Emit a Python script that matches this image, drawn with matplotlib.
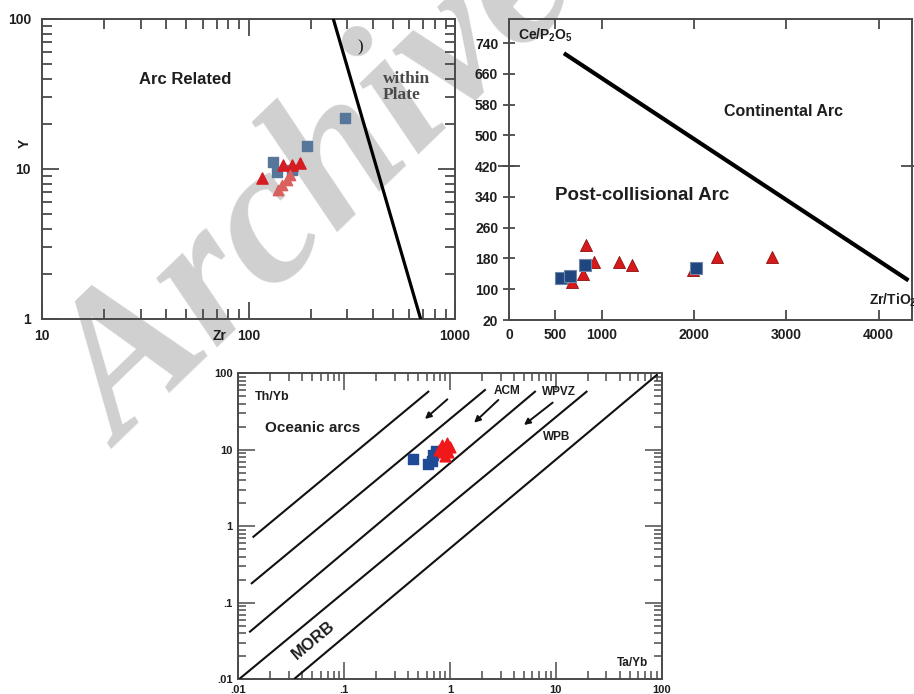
import numpy as np
import matplotlib
matplotlib.use("Agg")
import matplotlib.pyplot as plt
from matplotlib.ticker import FixedLocator, FixedFormatter, LogLocator, NullFormatter

plt.rcParams['font.family'] = ['Liberation Sans', 'DejaVu Sans']
plt.rcParams['mathtext.default'] = 'regular'

# ---------------- Zr vs Y (arc / within-plate) ----------------
zr_sq = [293, 192, 131.5, 137, 162.5]
y_sq = [21.9, 14.2, 11.1, 9.55, 9.85]
zr_tri = [116, 177, 147, 162.5]
y_tri = [8.7, 11.0, 10.6, 10.6]
zr_tri2 = [139, 145, 153.5, 158.6]
y_tri2 = [7.24, 7.82, 8.45, 9.12]
zr_div = [257.5, 682]
y_div = [100, 1]
zr_ticks = [10, 100, 1000]
y1_ticks = [1, 10, 100]

# ---------------- Zr/TiO2 vs Ce/P2O5 ----------------
zt_tri = [830, 917, 1191, 1332, 801, 675, 2245, 2841, 1986]
cp_tri = [215, 170, 171, 163, 140, 120, 185, 185, 150]
zt_sq = [556, 657, 819, 2022]
cp_sq = [130, 135, 163, 154]
zt_div = [610, 4303]
cp_div = [711, 126]
zt_ticks = [0, 500, 1000, 2000, 3000, 4000]
cp_ticks = [20, 100, 180, 260, 340, 420, 500, 580, 660, 740]

# ---------------- Ta/Yb vs Th/Yb ----------------
ta_sq = [0.448, 0.621, 0.692, 0.677, 0.739]
th_sq = [7.59, 6.52, 8.55, 7.14, 9.66]
ta_tri = [0.841, 0.938, 0.861, 0.960, 0.789, 1.0, 0.90]
th_tri = [11.6, 12.3, 9.35, 9.35, 9.95, 10.9, 8.3]
# boundary lines (start x, start y, end x, end y)
bound_x0 = [0.0139, 0.0134, 0.0129, 0.0104, 0.0343]
bound_y0 = [0.73, 0.18, 0.042, 0.0103, 0.0103]
bound_x1 = [0.624, 2.14, 6.35, 19.5, 89.8]
bound_y1 = [57.5, 60.5, 57.5, 57.5, 95]
arrow_x0 = [0.944, 2.86, 9.33]
arrow_y0 = [45.7, 44.8, 41.4]
arrow_x1 = [0.58, 1.69, 5.0]
arrow_y1 = [25.3, 22.6, 21.1]
log_ticks3 = [0.01, 0.1, 1, 10, 100]
log_labels3 = ['.01', '.1', '1', '10', '100']

W, H = 914, 694
fig = plt.figure(figsize=(W / 100, H / 100), dpi=100)
fig.patch.set_facecolor('white')


def px_axes(left, top, right, bottom):
    return fig.add_axes([left / W, 1 - bottom / H, (right - left) / W, (bottom - top) / H])


SPINE = '#4a4a4a'
TXT = '#1e1e1e'


def style_spines(ax):
    for s in ax.spines.values():
        s.set_color(SPINE)
        s.set_linewidth(1.4)
    ax.set_facecolor('none')


# watermark behind the plots
fig.text(122 / W, 1 - 450 / H, 'Archive', rotation=44, rotation_mode='anchor',
         ha='left', va='baseline', fontsize=144, family='Liberation Serif',
         weight='bold', style='italic', color='#d0d0d0', zorder=-5)

# ---------- panel 1 ----------
ax1 = px_axes(42, 19, 455, 319)
style_spines(ax1)
ax1.set_xscale('log')
ax1.set_yscale('log')
ax1.set_xlim(10, 1000)
ax1.set_ylim(1, 100)
ax1.plot(zr_div, y_div, color='black', lw=2.3, zorder=3)
ax1.scatter(zr_sq, y_sq, marker='s', s=55, color='#56779a', edgecolors='#56779a', zorder=4)
ax1.scatter(zr_tri, y_tri, marker='^', s=65, color='#d41c22', zorder=5)
ax1.scatter(zr_tri2, y_tri2, marker='^', s=55, color='#d9605c', zorder=5)
ax1.xaxis.set_major_locator(FixedLocator(zr_ticks))
ax1.xaxis.set_major_formatter(FixedFormatter([str(v) for v in zr_ticks]))
ax1.yaxis.set_major_locator(FixedLocator(y1_ticks))
ax1.yaxis.set_major_formatter(FixedFormatter([str(v) for v in y1_ticks]))
for a in (ax1.xaxis, ax1.yaxis):
    a.set_minor_locator(LogLocator(base=10, subs=np.arange(2, 10)))
    a.set_minor_formatter(NullFormatter())
ax1.tick_params(which='both', direction='in', top=True, right=True, color=SPINE, width=1.3)
ax1.tick_params(which='major', length=12)
ax1.tick_params(which='minor', length=7)
ax1.tick_params(axis='x', which='major', pad=7.5)
ax1.tick_params(axis='y', which='major', pad=8)
for lab in ax1.get_xticklabels() + ax1.get_yticklabels():
    lab.set_fontsize(10)
    lab.set_fontweight('bold')
    lab.set_color(TXT)
ax1.text(0.347, 0.797, 'Arc Related', transform=ax1.transAxes, ha='center', va='center',
         fontsize=12, fontweight='bold', color=TXT)
ax1.text(0.826, 0.773, 'within\nPlate', transform=ax1.transAxes, ha='left', va='center',
         fontsize=12.5, fontweight='bold', family='Liberation Serif', color='#4a4a4a',
         linespacing=1.05)
ax1.text(0.770, 0.907, ')', transform=ax1.transAxes, ha='center', va='center',
         fontsize=12, family='Liberation Serif', color='#111111')
ax1.text(-0.041, 0.587, 'Y', transform=ax1.transAxes, ha='center', va='center',
         rotation=90, fontsize=10, fontweight='bold', color=TXT)
ax1.text(0.431, -0.057, 'Zr', transform=ax1.transAxes, ha='center', va='center',
         fontsize=10, fontweight='bold', color=TXT)

# ---------- panel 2 ----------
ax2 = px_axes(509.3, 19, 912, 320)
style_spines(ax2)
ax2.set_xlim(0, 4360)
ax2.set_ylim(20, 803)
ax2.plot(zt_div, cp_div, color='black', lw=3.0, zorder=3)
ax2.scatter(zt_tri, cp_tri, marker='^', s=75, color='#d7191c', edgecolors='#8a1010',
            linewidths=0.6, zorder=4)
ax2.scatter(zt_sq, cp_sq, marker='s', s=75, color='#1f467f', edgecolors='#6f86a8',
            linewidths=0.8, zorder=5)
ax2.xaxis.set_major_locator(FixedLocator(zt_ticks))
ax2.yaxis.set_major_locator(FixedLocator(cp_ticks))
ax2.yaxis.set_minor_locator(FixedLocator([420]))
ax2.yaxis.remove_overlapping_locs = False
ax2.tick_params(axis='x', which='major', direction='in', top=True, length=7, pad=6,
                color=SPINE, width=1.3)
ax2.tick_params(axis='y', which='major', direction='inout', length=8, pad=4,
                color=SPINE, width=1.3)
ax2.tick_params(axis='y', which='minor', direction='inout', length=16, right=True,
                color=SPINE, width=1.3)
for lab in ax2.get_xticklabels() + ax2.get_yticklabels():
    lab.set_fontsize(10)
    lab.set_fontweight('bold')
    lab.set_color(TXT)
ax2.text(0.022, 0.947, 'Ce/P$_2$O$_5$', transform=ax2.transAxes, ha='left', va='center',
         fontsize=10, fontweight='bold', color=TXT)
ax2.text(0.680, 0.694, 'Continental Arc', transform=ax2.transAxes, ha='center', va='center',
         fontsize=11.5, fontweight='bold', color=TXT)
ax2.text(0.329, 0.415, 'Post-collisional Arc', transform=ax2.transAxes, ha='center',
         va='center', fontsize=13.5, fontweight='bold', color=TXT)
ax2.text(0.893, 0.066, 'Zr/TiO$_2$', transform=ax2.transAxes, ha='left', va='center',
         fontsize=10, fontweight='bold', color=TXT, clip_on=False)

# ---------- panel 3 ----------
ax3 = px_axes(238.3, 373.3, 661.7, 679.3)
style_spines(ax3)
ax3.set_xscale('log')
ax3.set_yscale('log')
ax3.set_xlim(0.01, 100)
ax3.set_ylim(0.01, 100)
for x0, y0, x1, y1 in zip(bound_x0, bound_y0, bound_x1, bound_y1):
    ax3.plot([x0, x1], [y0, y1], color='#111111', lw=1.5, zorder=3)
for x0, y0, x1, y1 in zip(arrow_x0, arrow_y0, arrow_x1, arrow_y1):
    ax3.annotate('', xy=(x1, y1), xytext=(x0, y0),
                 arrowprops=dict(arrowstyle='-|>', color='#111111', lw=1.4,
                                 mutation_scale=9, shrinkA=0, shrinkB=0))
ax3.scatter(ta_sq, th_sq, marker='s', s=50, color='#1f4a96', zorder=4)
ax3.scatter(ta_tri, th_tri, marker='^', s=60, color='#f01818', zorder=5)
for a in (ax3.xaxis, ax3.yaxis):
    a.set_major_locator(FixedLocator(log_ticks3))
    a.set_major_formatter(FixedFormatter(log_labels3))
    a.set_minor_locator(LogLocator(base=10, subs=np.arange(2, 10)))
    a.set_minor_formatter(NullFormatter())
ax3.tick_params(which='both', direction='in', top=True, right=True, color=SPINE, width=1.1)
ax3.tick_params(which='major', length=12)
ax3.tick_params(which='minor', length=6)
ax3.tick_params(axis='x', which='major', pad=4)
ax3.tick_params(axis='y', which='major', pad=4)
for lab in ax3.get_xticklabels() + ax3.get_yticklabels():
    lab.set_fontsize(8)
    lab.set_fontweight('bold')
    lab.set_color(TXT)
ax3.text(0.079, 0.922, 'Th/Yb', transform=ax3.transAxes, ha='center', va='center',
         fontsize=9, fontweight='bold', color=TXT)
ax3.text(0.176, 0.820, 'Oceanic arcs', transform=ax3.transAxes, ha='center', va='center',
         fontsize=11, fontweight='bold', color=TXT)
ax3.text(0.634, 0.942, 'ACM', transform=ax3.transAxes, ha='center', va='center',
         fontsize=8.5, fontweight='bold', color=TXT)
ax3.text(0.758, 0.938, 'WPVZ', transform=ax3.transAxes, ha='center', va='center',
         fontsize=8.5, fontweight='bold', color=TXT)
ax3.text(0.753, 0.793, 'WPB', transform=ax3.transAxes, ha='center', va='center',
         fontsize=8.5, fontweight='bold', color=TXT)
ax3.text(0.177, 0.128, 'MORB', transform=ax3.transAxes, ha='center', va='center',
         rotation=40, fontsize=12, fontweight='bold', color=TXT)
ax3.text(0.931, 0.054, 'Ta/Yb', transform=ax3.transAxes, ha='center', va='center',
         fontsize=8.5, fontweight='bold', color=TXT)

fig.savefig('out.png', dpi=100, facecolor='white')
